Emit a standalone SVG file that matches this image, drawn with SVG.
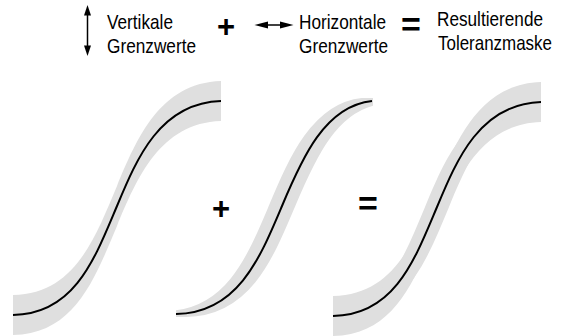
<svg xmlns="http://www.w3.org/2000/svg" xmlns:xlink="http://www.w3.org/1999/xlink" width="565" height="336" viewBox="0 0 565 336">
<style>
.lbl{font-family:"Liberation Sans",Arial,sans-serif;font-size:20px;fill:#000}
.op{font-family:"Liberation Sans",Arial,sans-serif;font-weight:bold;fill:#000;text-anchor:middle}
.band{fill:#dfdfdf;stroke:none}
.curve{fill:none;stroke:#000;stroke-width:2}
.arr{stroke:#000;stroke-width:1.5;fill:none}
.head{fill:#000}
</style>
<defs>
<path id="c1" d="M13,315 C75,314 95,258 117,206 C137,158 160,103 221,101"/>
<path id="vband" d="M13,295 C75,294 95,238 117,186 C137,138 160,83 221,81 L221,121 C160,123 137,178 117,226 C95,278 75,334 13,335 Z"/>
<path id="hband1" d="M1,315 C63,314 83,258 105,206 C125,158 148,103 209,101 L233,101 C172,103 149,158 129,206 C107,258 87,314 25,315 Z"/>
<clipPath id="clip2"><rect x="176" y="60" width="197" height="276"/></clipPath>
<clipPath id="clip3"><rect x="13" y="60" width="208" height="276"/></clipPath>
</defs>

<g id="legend-vertical">
<line class="arr" x1="87.5" y1="12" x2="87.5" y2="49"/>
<polygon class="head" points="87.5,5 84,15.5 91,15.5"/>
<polygon class="head" points="87.5,56 84,45.5 91,45.5"/>
<g transform="translate(107,0) scale(0.85,1)">
<text class="lbl" x="0" y="29" textLength="77.6" lengthAdjust="spacingAndGlyphs">Vertikale</text>
<text class="lbl" x="0" y="53" textLength="104.7" lengthAdjust="spacingAndGlyphs">Grenzwerte</text>
</g>
</g>

<g id="legend-plus"><text class="op" x="226" y="37" font-size="31">+</text></g>

<g id="legend-horizontal">
<line class="arr" x1="262" y1="25" x2="286" y2="25"/>
<polygon class="head" points="254.5,25 268,21.5 268,28.5"/>
<polygon class="head" points="293.5,25 280,21.5 280,28.5"/>
<g transform="translate(299,0) scale(0.85,1)">
<text class="lbl" x="0" y="29" textLength="102.4" lengthAdjust="spacingAndGlyphs">Horizontale</text>
<text class="lbl" x="0" y="53" textLength="104.7" lengthAdjust="spacingAndGlyphs">Grenzwerte</text>
</g>
</g>

<g id="legend-equals"><text class="op" x="411" y="36" font-size="34">=</text></g>

<g id="legend-result">
<g transform="translate(437,0) scale(0.85,1)">
<text class="lbl" x="0" y="26" textLength="124.7" lengthAdjust="spacingAndGlyphs">Resultierende</text>
<text class="lbl" x="1.2" y="50" textLength="134.1" lengthAdjust="spacingAndGlyphs">Toleranzmaske</text>
</g>
</g>

<g id="curve-vertical">
<use xlink:href="#vband" class="band"/>
<use xlink:href="#c1" class="curve"/>
</g>

<g id="op-plus"><text class="op" x="221" y="219" font-size="31">+</text></g>

<g id="curve-horizontal">
<path class="band" clip-path="url(#clip2)" style="stroke:#dfdfdf;stroke-width:6;stroke-linejoin:round" d="M166,314 C228,313 250,258 272,206 C292,158 315,106 362,101 L382,101 C335,106 312,158 292,206 C270,258 248,313 186,314 Z"/>
<path class="curve" d="M176,314 C238,313 260,258 282,206 C302,158 325,106 372,101"/>
</g>

<g id="op-equals"><text class="op" x="368" y="215" font-size="34">=</text></g>

<g id="curve-result">
<g transform="translate(320,1)">
<g clip-path="url(#clip3)">
<use xlink:href="#vband" class="band"/>
<use xlink:href="#hband1" class="band"/>
</g>
<use xlink:href="#c1" class="curve"/>
</g>
</g>

<g id="connectors"/>
</svg>
